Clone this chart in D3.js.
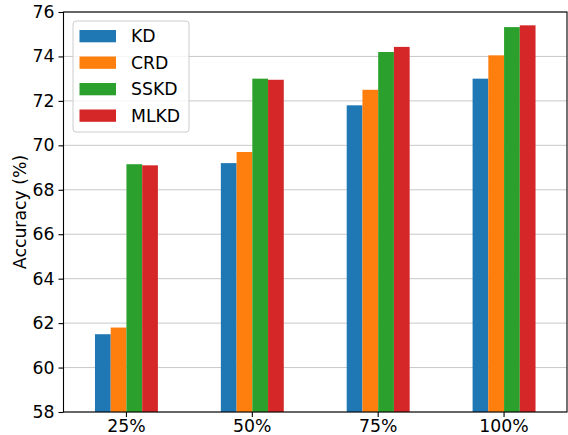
<!DOCTYPE html>
<html>
<head>
<meta charset="utf-8">
<script src="https://cdn.jsdelivr.net/npm/d3@7"></script>
<style>
  html, body { margin: 0; padding: 0; background: #fff; }
  svg { display: block; }
  text { font-family: "DejaVu Sans", sans-serif; }
</style>
</head>
<body>
<svg id="chart" width="568" height="435"></svg>
<script>
const categories = ["25%", "50%", "75%", "100%"];
const seriesNames = ["KD", "CRD", "SSKD", "MLKD"];
const kd   = [61.5, 69.2, 71.8, 73.0];
const crd  = [61.8, 69.7, 72.5, 74.05];
const sskd = [69.15, 73.0, 74.2, 75.32];
const mlkd = [69.1, 72.95, 74.43, 75.4];
const yTicks = [58, 60, 62, 64, 66, 68, 70, 72, 74, 76];
const colors = ["#1f77b4", "#ff7f0e", "#2ca02c", "#d62728"];

const seriesValues = [kd, crd, sskd, mlkd];

const mLeft = 63.5, mRight = 567, mTop = 12, mBottom = 412;
const FS = 17.3;
const svg = d3.select("#chart");

const y = d3.scaleLinear().domain([58, 76]).range([mBottom, mTop]);
const x = d3.scaleBand().domain(categories).range([mLeft, mRight]).paddingInner(0.5).paddingOuter(0.25);
const xs = d3.scaleBand().domain(seriesNames).range([0, x.bandwidth()]).padding(0);

// grid
svg.append("g").selectAll("line").data(yTicks).join("line")
  .attr("x1", mLeft).attr("x2", mRight)
  .attr("y1", d => y(d)).attr("y2", d => y(d))
  .attr("stroke", "#b0b0b0").attr("stroke-opacity", 0.7).attr("stroke-width", 1);

// bars
const groups = svg.append("g").selectAll("g").data(seriesNames).join("g")
  .attr("fill", (d, i) => colors[i]);
groups.selectAll("rect")
  .data((s, si) => categories.map((c, ci) => ({ c, s, v: seriesValues[si][ci] })))
  .join("rect")
  .attr("x", d => x(d.c) + xs(d.s))
  .attr("width", xs.bandwidth())
  .attr("y", d => y(d.v))
  .attr("height", d => y(58) - y(d.v));

// spines
svg.append("rect").attr("x", mLeft).attr("y", mTop).attr("width", mRight - mLeft).attr("height", mBottom - mTop)
  .attr("fill", "none").attr("stroke", "#000").attr("stroke-width", 1.1);

// axes
const xAxis = svg.append("g").attr("transform", `translate(0,${mBottom})`)
  .call(d3.axisBottom(x).tickSize(5).tickPadding(3).tickSizeOuter(0));
const yAxis = svg.append("g").attr("transform", `translate(${mLeft},0)`)
  .call(d3.axisLeft(y).tickValues(yTicks).tickFormat(d3.format("d")).tickSize(5).tickPadding(4).tickSizeOuter(0));
[xAxis, yAxis].forEach(a => {
  a.select(".domain").remove();
  a.selectAll("text").attr("font-size", FS).attr("fill", "#000").attr("font-family", "DejaVu Sans, sans-serif");
  a.selectAll("line").attr("stroke", "#000").attr("stroke-width", 1.1);
});

// y label
svg.append("text")
  .attr("transform", `translate(26,${(mTop + mBottom) / 2}) rotate(-90)`)
  .attr("text-anchor", "middle")
  .attr("font-size", FS)
  .text("Accuracy (%)");

// legend
const lg = svg.append("g");
lg.append("rect").attr("x", 73).attr("y", 21).attr("width", 116).attr("height", 111)
  .attr("rx", 3).attr("fill", "#fff").attr("fill-opacity", 0.8)
  .attr("stroke", "#cccccc").attr("stroke-width", 1);
const rows = lg.selectAll("g.row").data(seriesNames).join("g").attr("class", "row")
  .attr("transform", (d, i) => `translate(0,${36 + i * 26.5})`);
rows.append("rect").attr("x", 79.5).attr("y", -6).attr("width", 36.5).attr("height", 12.3)
  .attr("fill", (d, i) => colors[i]);
rows.append("text").attr("x", 131).attr("y", 0).attr("dy", "0.36em")
  .attr("font-size", FS).text(d => d);
</script>
</body>
</html>
